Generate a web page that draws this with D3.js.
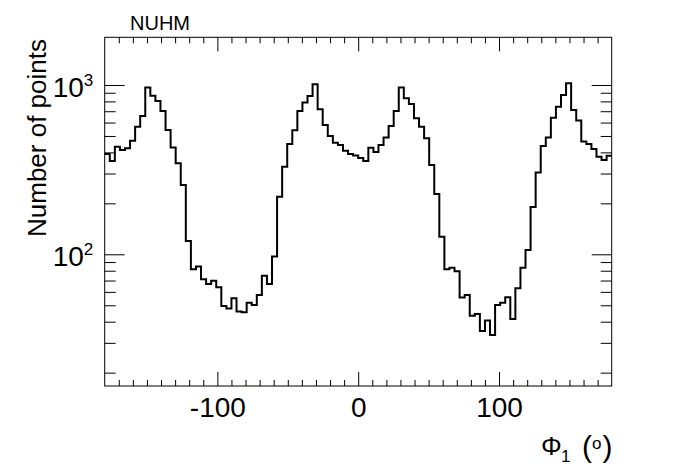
<!DOCTYPE html>
<html>
<head>
<meta charset="utf-8">
<script src="https://cdn.jsdelivr.net/npm/d3@7"></script>
<style>
  body { margin: 0; background: #fff; }
  svg { display: block; }
  text { font-family: "Liberation Sans", Arial, Helvetica, sans-serif; fill: #000; }
</style>
</head>
<body>
<svg id="chart" width="696" height="474"></svg>
<script>
// ---- data ----
const binLow = -180;
const binWidth = 3.6;
const counts = [
  391, 356, 432, 413, 423, 469, 567, 656, 965, 865,
  804, 702, 542, 428, 345, 257, 120, 81.5, 84.6, 71.2,
  66.8, 69.9, 63.9, 49.5, 47.8, 55.0, 45.9, 45.4, 51.8, 50.2,
  57.5, 74.8, 66.8, 96.9, 219, 329, 448, 540, 702, 787,
  861, 1009, 718, 580, 500, 456, 442, 409, 391, 384,
  371, 356, 426, 402, 442, 489, 573, 702, 965, 834,
  772, 636, 567, 484, 337, 227, 127, 81.5, 83.4, 79.4,
  55.5, 57.5, 43.4, 44.4, 35.3, 40.6, 33.4, 50.2, 51.8, 55.7,
  41.5, 63.0, 83.4, 106, 190, 304, 436, 489, 641, 745,
  873, 1023, 712, 616, 463, 448, 419, 377, 361, 382
];
const xMajorTicks = [-100, 0, 100];
const xTickLabels = ["-100", "0", "100"];
const xMinorTicks = d3.range(-170, 180, 10).filter(v => v % 100 !== 0);
const yMajorTicks = [100, 1000];
const yMinorTicks = [20, 30, 40, 50, 60, 70, 80, 90, 200, 300, 400, 500, 600, 700, 800, 900];
const yDomain = [16.68, 1913];
const xDomain = [-180, 180];
const titleText = "NUHM";
const yTitle = "Number of points";

// ---- layout ----
const L = 104.7, R = 611.7, T = 37.3, B = 386;
const svg = d3.select("#chart");
const x = d3.scaleLinear().domain(xDomain).range([L, R]);
const y = d3.scaleLog().domain(yDomain).range([B, T]);

// histogram
const pts = counts.map((c, i) => [binLow + i * binWidth, c]);
pts.push([binLow + counts.length * binWidth, counts[counts.length - 1]]);
const line = d3.line().x(d => x(d[0])).y(d => y(d[1])).curve(d3.curveStepAfter);
svg.append("path").attr("d", line(pts))
  .attr("fill", "none").attr("stroke", "#000").attr("stroke-width", 2);

function styleAxis(g) {
  g.select(".domain").remove();
  g.selectAll(".tick line").attr("stroke", "#000").attr("stroke-width", 1);
}
// bottom
const gxB = svg.append("g").attr("transform", `translate(0,${B})`)
  .call(d3.axisBottom(x).tickValues(xMajorTicks).tickSize(-14).tickPadding(10.8)
    .tickFormat((d, i) => xTickLabels[i]));
styleAxis(gxB);
gxB.selectAll("text").attr("font-size", 28).attr("font-family", "Liberation Sans, Arial, sans-serif").attr("fill", "#000");
const gxBm = svg.append("g").attr("transform", `translate(0,${B})`)
  .call(d3.axisBottom(x).tickValues(xMinorTicks).tickSize(-6).tickFormat(""));
styleAxis(gxBm);
// top
const gxT = svg.append("g").attr("transform", `translate(0,${T})`)
  .call(d3.axisTop(x).tickValues(xMajorTicks).tickSize(-14).tickFormat(""));
styleAxis(gxT);
const gxTm = svg.append("g").attr("transform", `translate(0,${T})`)
  .call(d3.axisTop(x).tickValues(xMinorTicks).tickSize(-6).tickFormat(""));
styleAxis(gxTm);

// left
const gyL = svg.append("g").attr("transform", `translate(${L},0)`)
  .call(d3.axisLeft(y).tickValues(yMajorTicks).tickSize(-20).tickPadding(11.4).tickFormat(() => ""));
styleAxis(gyL);
gyL.selectAll(".tick text").each(function(d) {
  const t = d3.select(this);
  t.text(null).attr("font-size", 28).attr("dy", "0.4em").attr("fill", "#000")
    .attr("font-family", "Liberation Sans, Arial, sans-serif");
  t.append("tspan").text("10");
  t.append("tspan").attr("font-size", 17).attr("dy", "-0.62em").text(String(Math.round(Math.log10(d))));
});
const gyLm = svg.append("g").attr("transform", `translate(${L},0)`)
  .call(d3.axisLeft(y).tickValues(yMinorTicks).tickSize(-11).tickFormat(() => ""));
styleAxis(gyLm);
// right
const gyR = svg.append("g").attr("transform", `translate(${R},0)`)
  .call(d3.axisRight(y).tickValues(yMajorTicks).tickSize(-20).tickFormat(() => ""));
styleAxis(gyR);
const gyRm = svg.append("g").attr("transform", `translate(${R},0)`)
  .call(d3.axisRight(y).tickValues(yMinorTicks).tickSize(-11).tickFormat(() => ""));
styleAxis(gyRm);

// frame
svg.append("rect").attr("x", L).attr("y", T).attr("width", R - L).attr("height", B - T)
  .attr("fill", "none").attr("stroke", "#000").attr("stroke-width", 1);

// title
svg.append("text").attr("x", 130).attr("y", 30).attr("font-size", 20).text(titleText);

// y title
svg.append("text").attr("transform", `translate(46,39) rotate(-90)`)
  .attr("text-anchor", "end").attr("font-size", 26).text(yTitle);

// x title: Φ_1 (°)
const xt = svg.append("g");
xt.append("text").attr("x", 541).attr("y", 455).attr("font-size", 26)
  .attr("font-family", "Liberation Serif, Times New Roman, serif").text("Φ");
xt.append("text").attr("x", 561).attr("y", 462).attr("font-size", 17).text("1");
xt.append("text").attr("x", 582).attr("y", 457).attr("font-size", 30).text("(");
xt.append("text").attr("x", 592).attr("y", 449).attr("font-size", 17).text("o");
xt.append("text").attr("x", 602.5).attr("y", 457).attr("font-size", 30).text(")");
</script>
</body>
</html>
